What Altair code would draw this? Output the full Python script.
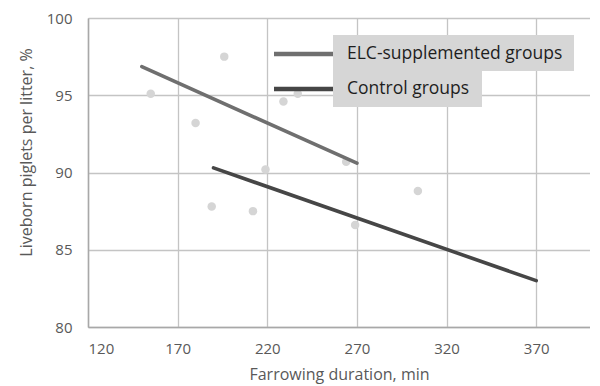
import altair as alt
import pandas as pd

# ---- data ----
duration = [155, 180, 196, 229, 237, 219, 264, 304, 189, 212, 269]
liveborn = [95.1, 93.2, 97.5, 94.6, 95.1, 90.2, 90.7, 88.8, 87.8, 87.5, 86.6]

series = ["ELC-supplemented groups", "Control groups"]
trend_x = [[150, 270], [190, 370]]
trend_y = [[96.85, 90.6], [90.3, 83.0]]
line_colors = ["#6f6f6f", "#464646"]

x_ticks = [120, 170, 220, 270, 320, 370]
y_ticks = [80, 85, 90, 95, 100]

FONT = "Open Sans"
TXT = "#595959"

pts = pd.DataFrame({"duration": duration, "liveborn": liveborn})
rows = []
for s, xs, ys in zip(series, trend_x, trend_y):
    for xv, yv in zip(xs, ys):
        rows.append({"series": s, "duration": xv, "liveborn": yv})
trend = pd.DataFrame(rows)

xscale = alt.Scale(domain=[120, 400], nice=False, zero=False)
yscale = alt.Scale(domain=[80, 100], nice=False, zero=False)

xaxis = alt.Axis(values=x_ticks, title="Farrowing duration, min", ticks=False,
                 labelPadding=14, titleY=47, titleBaseline="middle",
                 labelFontSize=15, titleFontSize=16, titleFontWeight="normal")
yaxis = alt.Axis(values=y_ticks, title="Liveborn piglets per litter, %", ticks=False,
                 labelPadding=16, titleX=-62, titleY=134, titleAngle=270,
                 titleBaseline="middle", titleAlign="center",
                 labelFontSize=15, titleFontSize=16, titleFontWeight="normal")

points = alt.Chart(pts).mark_circle(size=72, color="#d5d5d5", opacity=1).encode(
    x=alt.X("duration:Q", scale=xscale, axis=xaxis),
    y=alt.Y("liveborn:Q", scale=yscale, axis=yaxis),
)

lines = alt.Chart(trend).mark_line(strokeWidth=3.6, strokeCap="round").encode(
    x=alt.X("duration:Q", scale=xscale),
    y=alt.Y("liveborn:Q", scale=yscale),
    color=alt.Color("series:N", scale=alt.Scale(domain=series, range=line_colors), legend=None),
    detail="series:N",
)

# ---- hand-drawn legend (layout constants in pixels of the plot area) ----
leg_rows_y = [36, 71]
box_tops = [17, 53]
box_bottoms = [53, 89]
box_rights = [486, 394]
box_left = 245
sample_x = [186, 245]
text_x = 259

legend_layers = []
for i, s in enumerate(series):
    legend_layers.append(
        alt.Chart(pd.DataFrame({"s": [s]})).mark_rect(color="#d6d6d6").encode(
            x=alt.value(box_left), x2=alt.value(box_rights[i]),
            y=alt.value(box_tops[i]), y2=alt.value(box_bottoms[i]))
    )
for i, s in enumerate(series):
    legend_layers.append(
        alt.Chart(pd.DataFrame({"s": [s]})).mark_rule(strokeWidth=4.5, color=line_colors[i]).encode(
            x=alt.value(sample_x[0]), x2=alt.value(sample_x[1]), y=alt.value(leg_rows_y[i]))
    )
    legend_layers.append(
        alt.Chart(pd.DataFrame({"s": [s]})).mark_text(
            align="left", baseline="middle", font=FONT, fontSize=17.5, color="#1e1e1e").encode(
            x=alt.value(text_x), y=alt.value(leg_rows_y[i]), text="s:N")
    )

chart = alt.layer(points, lines, *legend_layers).properties(
    width=502, height=309,
    autosize=alt.AutoSizeParams(type="none"),
    padding={"left": 80, "top": 10, "right": 0, "bottom": 57},
).configure_view(stroke=None).configure_axis(
    labelFont=FONT, titleFont=FONT, labelColor=TXT, titleColor=TXT,
    gridColor="#c4c4c4", gridWidth=1.3, domainColor="#a8a8a8", domainWidth=1.5,
)

chart.save("out.html", embed_options={"renderer": "svg", "actions": False})
